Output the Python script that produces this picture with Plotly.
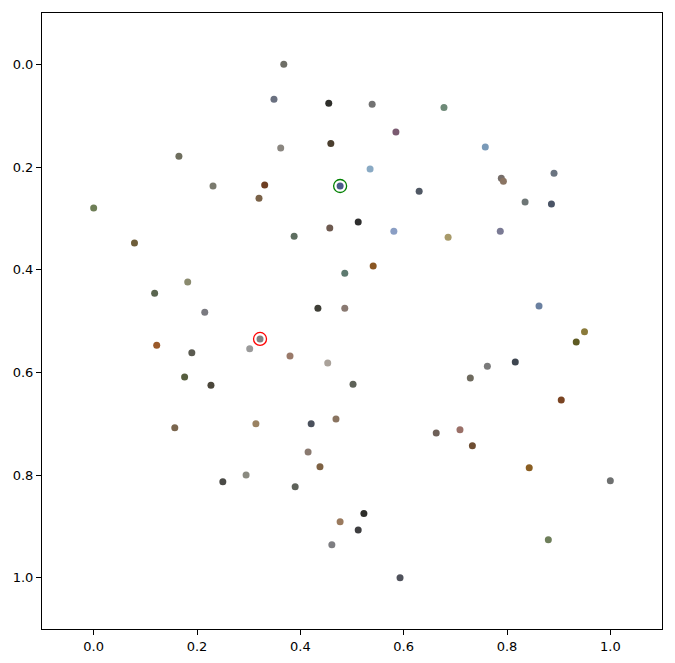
"""Scatter of sampled points with two highlighted picks."""
import plotly.graph_objects as go

x_vals = [
    0.368, 0.349, 0.455, 0.539, 0.678, 0.585, 0.758, 0.459, 0.362, 0.165,
    0.535, 0.231, 0.331, 0.477, 0.320, 0.630, 0.891, 0.789, 0.793, 0.835,
    0.886, 0.000, 0.512, 0.457, 0.581, 0.388, 0.787, 0.686, 0.079, 0.541,
    0.486, 0.182, 0.118, 0.215, 0.434, 0.486, 0.862, 0.950, 0.934, 0.122,
    0.322, 0.302, 0.190, 0.380, 0.453, 0.816, 0.762, 0.176, 0.729, 0.502,
    0.227, 0.905, 0.469, 0.314, 0.421, 0.157, 0.663, 0.709, 0.733, 0.415,
    0.438, 0.843, 0.295, 0.250, 1.000, 0.390, 0.523, 0.477, 0.512, 0.880,
    0.461, 0.593,
]
y_vals = [
    0.000, 0.068, 0.076, 0.078, 0.084, 0.132, 0.161, 0.154, 0.163, 0.179,
    0.204, 0.237, 0.235, 0.237, 0.261, 0.247, 0.212, 0.222, 0.228, 0.268,
    0.272, 0.280, 0.307, 0.319, 0.325, 0.335, 0.325, 0.337, 0.348, 0.393,
    0.407, 0.424, 0.446, 0.483, 0.475, 0.475, 0.471, 0.521, 0.541, 0.547,
    0.535, 0.554, 0.562, 0.568, 0.582, 0.580, 0.588, 0.609, 0.611, 0.623,
    0.625, 0.654, 0.691, 0.700, 0.700, 0.708, 0.718, 0.712, 0.743, 0.755,
    0.784, 0.786, 0.800, 0.813, 0.811, 0.823, 0.875, 0.891, 0.907, 0.926,
    0.936, 1.000,
]
colors = [
    "#6e6e66", "#6a7080", "#2e2e2a", "#727272", "#6e8a78", "#7a5a70", "#7a9ab8", "#4a3e2e", "#8a8680", "#6e6e5e",
    "#8aaac4", "#7a7a6e", "#6e3e22", "#4a5a8a", "#7a6248", "#505864", "#6a7480", "#766e6a", "#8a7462", "#6e7676",
    "#4a5466", "#6e7e56", "#2e2e2e", "#6e5a50", "#8a9ec4", "#5e6e60", "#7a7a94", "#a89a6a", "#6e5e3a", "#8a5622",
    "#5e7a70", "#8a8a6e", "#5a6650", "#7a7a80", "#3e3e36", "#8a7a72", "#6a80a0", "#8a7a3a", "#5e5a22", "#9a5a2a",
    "#808080", "#9a9a9a", "#5a5a50", "#9a7a6a", "#aaa29a", "#3e4650", "#7a7a7a", "#565e3e", "#6e6a5e", "#5e6258",
    "#4a463a", "#7a4422", "#8a7460", "#9a8262", "#4a505c", "#7a664e", "#6e6058", "#9a7068", "#6e4e32", "#8a7a70",
    "#7e6244", "#8a5e22", "#8a8a80", "#4a4a46", "#6e7070", "#5e625a", "#2e2e2a", "#9a7a5e", "#3e3e40", "#6e7e5a",
    "#7e7e82", "#50525c",
]

# highlighted picks (index into the arrays above)
picks = [13, 40]
pick_colors = ["green", "red"]

tick_vals = [0.0, 0.2, 0.4, 0.6, 0.8, 1.0]

fig = go.Figure()
fig.add_trace(go.Scatter(
    x=x_vals, y=y_vals, mode="markers",
    marker=dict(size=7, color=colors, line=dict(width=0)),
    showlegend=False, hoverinfo="skip",
))
for i, c in zip(picks, pick_colors):
    fig.add_trace(go.Scatter(
        x=[x_vals[i]], y=[y_vals[i]], mode="markers",
        marker=dict(size=13, color="rgba(0,0,0,0)", line=dict(width=1.3, color=c)),
        showlegend=False, hoverinfo="skip",
    ))

axis = dict(
    showgrid=False, zeroline=False, showline=True, linecolor="black", linewidth=1,
    mirror=True, ticks="outside", ticklen=5, tickcolor="black",
    tickvals=tick_vals, tickformat=".1f",
    tickfont=dict(family="DejaVu Sans", size=13, color="black"),
)
# page body adds an 8px margin, so the figure is sized to sit inside it
fig.update_layout(
    width=667, height=655,
    margin=dict(l=34, r=13, t=5, b=34),
    paper_bgcolor="white", plot_bgcolor="white",
    xaxis=dict(axis, range=[-0.1, 1.1]),
    yaxis=dict(axis, range=[1.1, -0.1]),
)
fig.write_html("out.html")
